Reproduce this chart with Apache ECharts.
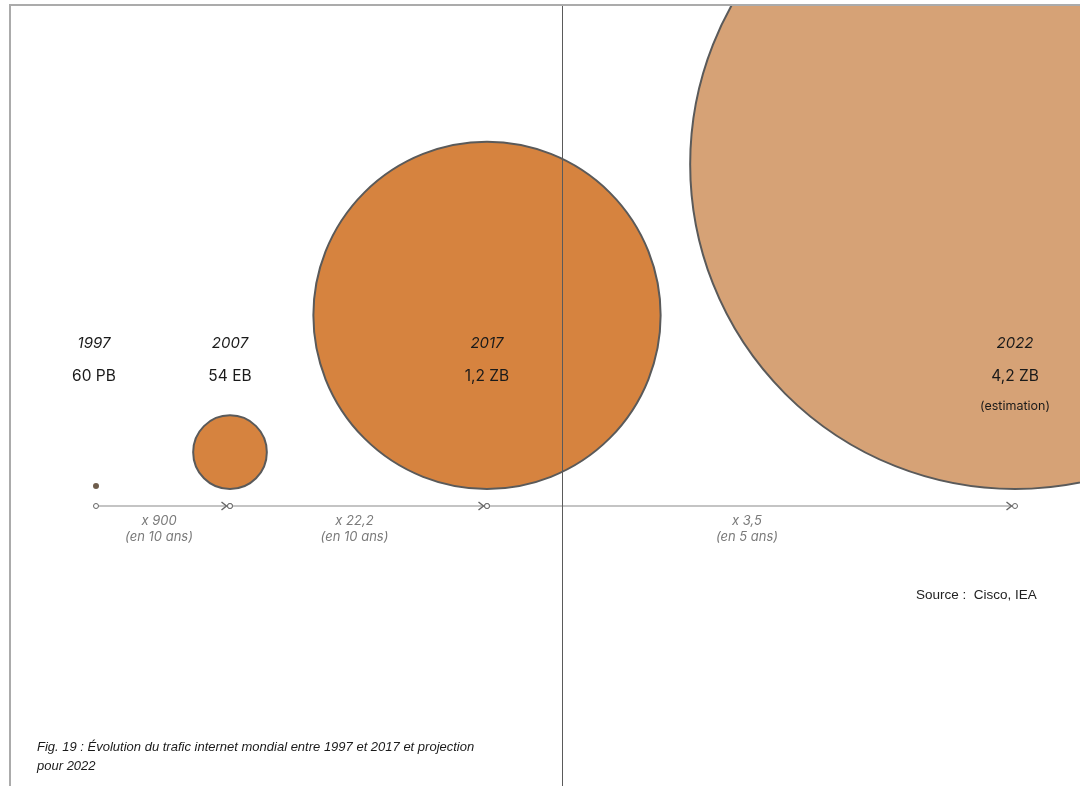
<!DOCTYPE html>
<html>
<head>
<meta charset="utf-8">
<script src="https://cdn.jsdelivr.net/npm/echarts@6/dist/echarts.min.js"></script>
<style>
  html, body { margin: 0; padding: 0; background: #ffffff; }
  #chart { width: 1080px; height: 786px; }
</style>
</head>
<body>
<div id="chart"></div>
<script>
// Global internet traffic per year, in petabytes (PB)
const years = ['1997', '2007', '2017', '2022'];
const trafficPB = [60, 54000, 1200000, 4200000];
const trafficLabels = ['60 PB', '54 EB', '1,2 ZB', '4,2 ZB'];
const trafficNotes = ['', '', '', '(estimation)'];
const isProjection = [false, false, false, true];

// Growth between consecutive years
const growthFactors = ['x 900', 'x 22,2', 'x 3,5'];
const growthPeriods = ['(en 10 ans)', '(en 10 ans)', '(en 5 ans)'];

// Layout (pixel-based axes: 1 unit = 1 px)
const columnX = [96, 230, 487, 1015];
const baselineY = 489;      // circles rest on this line
const timelineY = 506;
const yearLabelY = 343;
const valueLabelY = 376;
const noteLabelY = 406;
const radiusScale = 0.1585; // area-proportional: r = k * sqrt(PB)
const minRadius = 3;

const colorActual = '#d6833f';
const colorProjected = '#d6a276';

const bubbleData = years.map((y, i) => [columnX[i], trafficPB[i], i]);
const segmentData = growthFactors.map((g, i) => [columnX[i], columnX[i + 1], i]);

const chart = echarts.init(document.getElementById('chart'), null, { renderer: 'canvas' });

function renderBubble(params, api) {
  const x = api.value(0);
  const v = api.value(1);
  const i = api.value(2);
  const rUnits = Math.max(minRadius, radiusScale * Math.sqrt(v));
  const r = api.size([rUnits, 0])[0];
  const base = api.coord([x, baselineY]);
  const children = [];
  const tiny = rUnits <= minRadius;
  children.push({
    type: 'circle',
    shape: { cx: base[0], cy: base[1] - r, r: r },
    style: tiny
      ? { fill: '#6e5d4c' }
      : { fill: isProjection[i] ? colorProjected : colorActual, stroke: '#5a5a5a', lineWidth: 2 }
  });
  const yl = api.coord([x, yearLabelY]);
  const vl = api.coord([x, valueLabelY]);
  const nl = api.coord([x, noteLabelY]);
  children.push({
    type: 'text', x: yl[0] - (i === 0 ? 2 : 0), y: yl[1],
    style: { text: years[i], fill: '#1a1a1a', font: 'italic 15px Inter', align: 'center', verticalAlign: 'middle' }
  });
  children.push({
    type: 'text', x: vl[0] - (i === 0 ? 2 : 0), y: vl[1],
    style: { text: trafficLabels[i], fill: '#1a1a1a', font: '15.5px Inter', align: 'center', verticalAlign: 'middle' }
  });
  if (trafficNotes[i]) {
    children.push({
      type: 'text', x: nl[0], y: nl[1],
      style: { text: trafficNotes[i], fill: '#1a1a1a', font: '12.5px Inter', align: 'center', verticalAlign: 'middle' }
    });
  }
  return { type: 'group', children: children };
}

function renderSegment(params, api) {
  const x0 = api.value(0);
  const x1 = api.value(1);
  const i = api.value(2);
  const p0 = api.coord([x0, timelineY]);
  const p1 = api.coord([x1, timelineY]);
  const stroke = '#8a8a8a';
  const dotR = 2.5;
  const tip = p1[0] - dotR - 1;
  const mid = api.coord([(x0 + x1) / 2 - 4, timelineY]);
  return {
    type: 'group',
    children: [
      { type: 'line', shape: { x1: p0[0] + dotR, y1: p0[1], x2: p1[0] - dotR, y2: p1[1] },
        style: { stroke: stroke, lineWidth: 1.2 } },
      { type: 'polyline', shape: { points: [[tip - 5, p1[1] - 4], [tip, p1[1]], [tip - 5, p1[1] + 4]] },
        style: { stroke: '#666', lineWidth: 1.4, fill: null } },
      { type: 'circle', shape: { cx: p0[0], cy: p0[1], r: dotR },
        style: { fill: '#fff', stroke: '#666', lineWidth: 1 } },
      { type: 'circle', shape: { cx: p1[0], cy: p1[1], r: dotR },
        style: { fill: '#fff', stroke: '#666', lineWidth: 1 } },
      { type: 'text', x: mid[0], y: mid[1] + 15,
        style: { text: growthFactors[i], fill: '#7a7a7a', font: 'italic 13px Inter', align: 'center', verticalAlign: 'middle' } },
      { type: 'text', x: mid[0], y: mid[1] + 31,
        style: { text: growthPeriods[i], fill: '#7a7a7a', font: 'italic 13px Inter', align: 'center', verticalAlign: 'middle' } }
    ]
  };
}

chart.setOption({
  animation: false,
  backgroundColor: '#ffffff',
  grid: { left: 11, right: 0, top: 6, bottom: 0 },
  xAxis: { type: 'value', min: 11, max: 1080, show: false },
  yAxis: { type: 'value', min: 6, max: 786, inverse: true, show: false },
  series: [
    { type: 'custom', name: 'trafic', clip: true, z: 2, renderItem: renderBubble, data: bubbleData },
    { type: 'custom', name: 'croissance', clip: true, z: 3, renderItem: renderSegment, data: segmentData }
  ],
  graphic: [
    { type: 'line', z: 100, shape: { x1: 562.5, y1: 6, x2: 562.5, y2: 786 },
      style: { stroke: '#5a5a5a', lineWidth: 1 } },
    { type: 'polyline', z: 100, shape: { points: [[10, 786], [10, 5], [1080, 5]] },
      style: { stroke: '#ababab', lineWidth: 2, fill: null } },
    { type: 'text', z: 100, left: 916, top: 588,
      style: { text: 'Source :  Cisco, IEA', fill: '#222', font: '13.5px "Liberation Sans"' } },
    { type: 'text', z: 100, left: 37, top: 738,
      style: { text: 'Fig. 19 : Évolution du trafic internet mondial entre 1997 et 2017 et projection\npour 2022',
               fill: '#1a1a1a', font: 'italic 13px "Liberation Sans"', lineHeight: 19 } }
  ]
});
</script>
</body>
</html>
